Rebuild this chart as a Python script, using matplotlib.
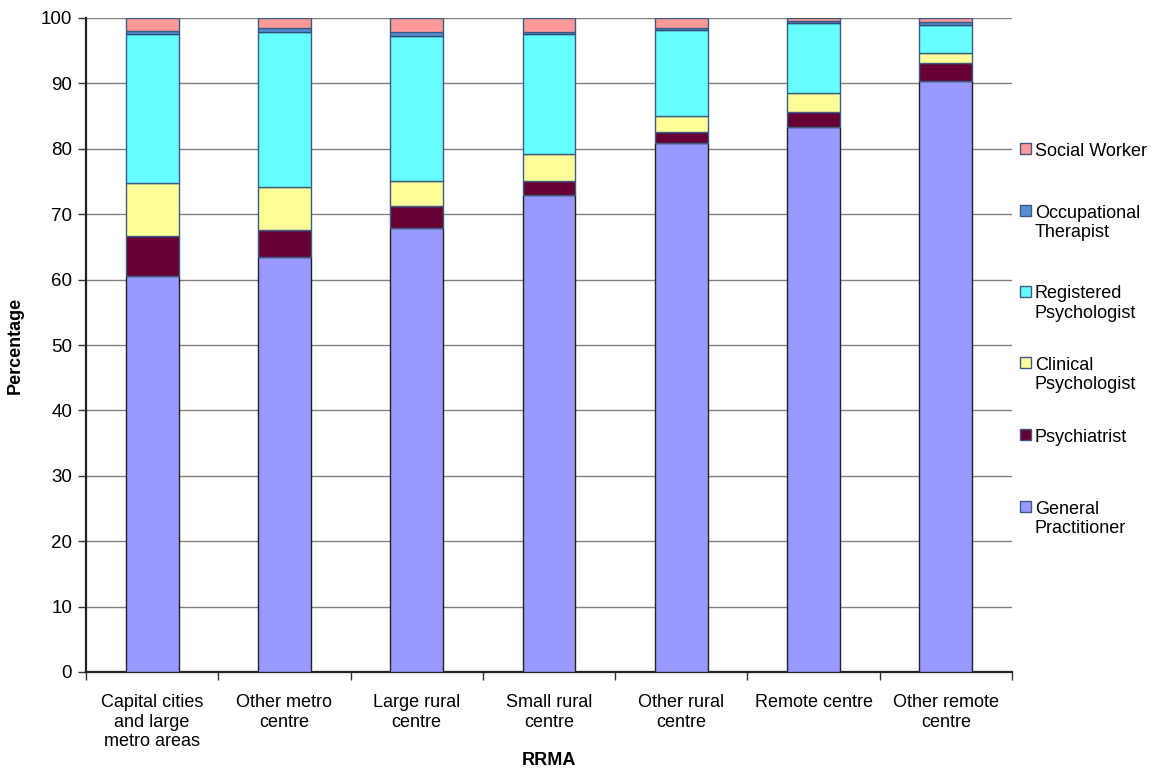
import matplotlib
matplotlib.use("Agg")
import matplotlib.pyplot as plt
from matplotlib.patches import Rectangle
import numpy as np

plt.rcParams['font.family'] = ['Liberation Sans', 'DejaVu Sans']

categories = ["Capital cities\nand large\nmetro areas", "Other metro\ncentre", "Large rural\ncentre",
              "Small rural\ncentre", "Other rural\ncentre", "Remote centre", "Other remote\ncentre"]
series_names = ["General\nPractitioner", "Psychiatrist", "Clinical\nPsychologist",
                "Registered\nPsychologist", "Occupational\nTherapist", "Social Worker"]
general_practitioner = [60.6, 63.5, 67.9, 72.9, 80.9, 83.3, 90.3]
psychiatrist = [6.0, 4.1, 3.3, 2.2, 1.7, 2.4, 2.8]
clinical_psychologist = [8.2, 6.5, 3.9, 4.1, 2.4, 2.8, 1.5]
registered_psychologist = [22.7, 23.8, 22.1, 18.3, 13.15, 10.7, 4.4]
occupational_therapist = [0.55, 0.6, 0.7, 0.3, 0.25, 0.4, 0.4]
social_worker = [1.95, 1.5, 2.1, 2.2, 1.6, 0.4, 0.6]

series = [general_practitioner, psychiatrist, clinical_psychologist,
          registered_psychologist, occupational_therapist, social_worker]
colors = ["#9999FF", "#660033", "#FFFF99", "#66FFFF", "#558ED5", "#FF9999"]
edges = ["#222222", "#3c5a82", "#3c5a82", "#3c5a82", "#2f4f7a", "#3c5a82"]

W, H = 1156, 770
fig = plt.figure(figsize=(W/100, H/100), dpi=100)
ax = fig.add_axes([86/W, 1-672/H, (1012-86)/W, (672-18)/H])

x = np.arange(len(categories))
bottom = np.zeros(len(categories))
for vals, name, c, ec in zip(series, series_names, colors, edges):
    vals = np.array(vals)
    ax.bar(x, vals, width=0.4, bottom=bottom, color=c, edgecolor=ec, linewidth=1.0,
           label=name, zorder=3)
    bottom += vals

ax.set_xlim(-0.5, len(categories)-0.5)
ax.set_ylim(0, 100)
ax.set_yticks(np.arange(0, 101, 10))
ax.yaxis.grid(True, color="#808080", linewidth=1.0, zorder=0)
ax.set_axisbelow(True)

ax.set_xticks(x)
ax.set_xticklabels(categories, fontsize=13)
ax.set_xticks(np.arange(-0.5, len(categories), 1), minor=True)
ax.tick_params(axis='x', which='major', length=0, pad=16)
ax.tick_params(axis='x', which='minor', length=6, width=1, color="#333333")
ax.tick_params(axis='y', which='major', length=6, width=1, labelsize=13.5, pad=4, color="#333333")

for s in ['top', 'right']:
    ax.spines[s].set_visible(False)
for s in ['left', 'bottom']:
    ax.spines[s].set_linewidth(1.6)
    ax.spines[s].set_color("#222222")

ax.set_ylabel("Percentage", fontsize=13, fontweight='bold', labelpad=12)
ax.set_xlabel("RRMA", fontsize=13, fontweight='bold', labelpad=1)

# Legend (Excel-style: series listed top to bottom in reverse stacking order)
legend_first_line_y = [149, 211, 292, 363, 435, 507]  # pixel rows, top to bottom
for ypix, name, c, ec in zip(legend_first_line_y, series_names[::-1], colors[::-1], edges[::-1]):
    fig.patches.append(Rectangle((1020/W, 1-(ypix+5)/H), 11/W, 11/H,
                                 transform=fig.transFigure, facecolor=c,
                                 edgecolor="#3c5a82", linewidth=1.0))
    fig.text(1035/W, 1-(ypix-6.5)/H, name, fontsize=13, va='top', ha='left')

fig.savefig("out.png", dpi=100)
